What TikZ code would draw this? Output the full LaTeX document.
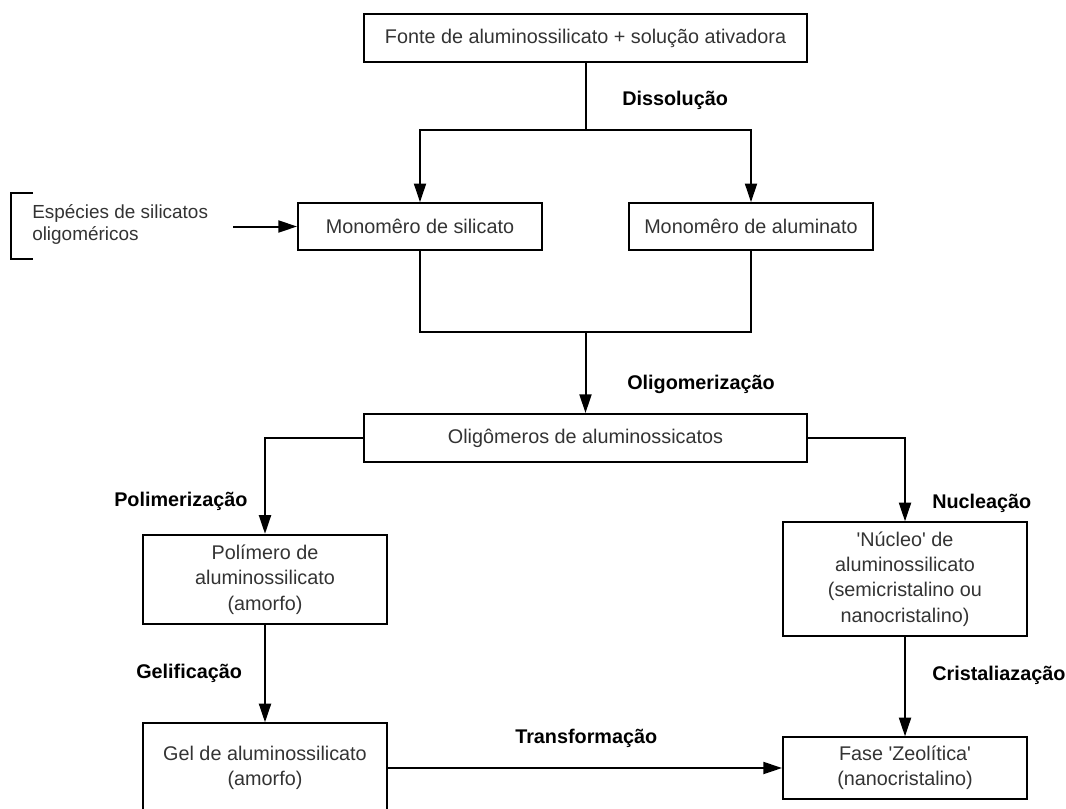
\documentclass[tikz,border=0pt]{standalone}
\usepackage{fontspec}
\setmainfont{Liberation Sans}
\usepackage{tikz}
\usetikzlibrary{arrows.meta}

\tikzset{
  box/.style={draw, line width=1.5pt, text=black!80, align=center, inner sep=0pt,
    minimum width=183pt, font=\fontsize{14.85pt}{19pt}\selectfont},
  lbl/.style={anchor=west, inner sep=0pt, font=\fontsize{14.85pt}{19pt}\selectfont\bfseries},
  con/.style={line width=1.5pt},
  arr/.style={line width=1.5pt, -{Triangle[length=14pt,width=9pt]}}
}

\begin{document}
\begin{tikzpicture}[x=0.75pt,y=0.75pt,yscale=-1,xscale=1]
\useasboundingbox (0,0) rectangle (1066,808);

% Boxes
\node [box, minimum width=332pt, minimum height=36pt] (fonte) at (585.5,38) {Fonte de aluminossilicato + solução ativadora};
\node [box, minimum height=35pt] (silicato) at (420,226.5) {Monomêro de silicato};
\node [box, minimum height=35pt] (aluminato) at (751,226.5) {Monomêro de aluminato};
\node [box, minimum width=332pt, minimum height=36pt] (oligo) at (585.5,438) {Oligômeros de aluminossicatos};
\node [box, minimum height=67pt] (polimero) at (265,579.5) {Polímero de\\aluminossilicato\\(amorfo)};
\node [box, minimum height=85pt] (nucleo) at (905,579) {\textquotesingle Núcleo\textquotesingle{} de\\aluminossilicato\\(semicristalino ou\\nanocristalino)};
\node [box, minimum height=67pt] (gel) at (265,768) {Gel de aluminossilicato\\(amorfo)};
\node [box, minimum height=46pt] (fase) at (905,768) {Fase \textquotesingle Zeolítica\textquotesingle\\(nanocristalino)};

% Side text with bracket
\node [anchor=west, inner sep=0pt, align=left, text=black!80, font=\fontsize{14.2pt}{16.5pt}\selectfont] (especies) at (32,224) {Espécies de silicatos\\oligoméricos};
\draw [con] (33,193) -- (11,193) -- (11,259) -- (33,259);
\coordinate (espout) at (233,226.5);

% Junction points
\coordinate (split) at (585.5,130);
\coordinate (join) at (585.5,332);

% Connectors
\draw [con] (fonte.south) -- (split);
\draw [arr] (split) -| (silicato.north);
\draw [arr] (split) -| (aluminato.north);
\draw [arr] (espout) -- (silicato.west);
\draw [con] (silicato.south) |- (join) -| (aluminato.south);
\draw [arr] (join) -- (oligo.north);
\draw [arr] (oligo.west) -| (polimero.north);
\draw [arr] (oligo.east) -| (nucleo.north);
\draw [arr] (polimero.south) -- (gel.north);
\draw [arr] (nucleo.south) -- (fase.north);
\draw [arr] (gel.east) -- (fase.west);

% Labels
\node [lbl] (dissolucao) at (622,100) {Dissolução};
\node [lbl] (oligomerizacao) at (627,384) {Oligomerização};
\node [lbl] (polimerizacao) at (114,501) {Polimerização};
\node [lbl] (nucleacao) at (932,503) {Nucleação};
\node [lbl] (gelificacao) at (136,673) {Gelificação};
\node [lbl] (cristalizacao) at (932,675) {Cristaliazação};
\node [lbl] (transformacao) at (515,738) {Transformação};

\end{tikzpicture}
\end{document}
